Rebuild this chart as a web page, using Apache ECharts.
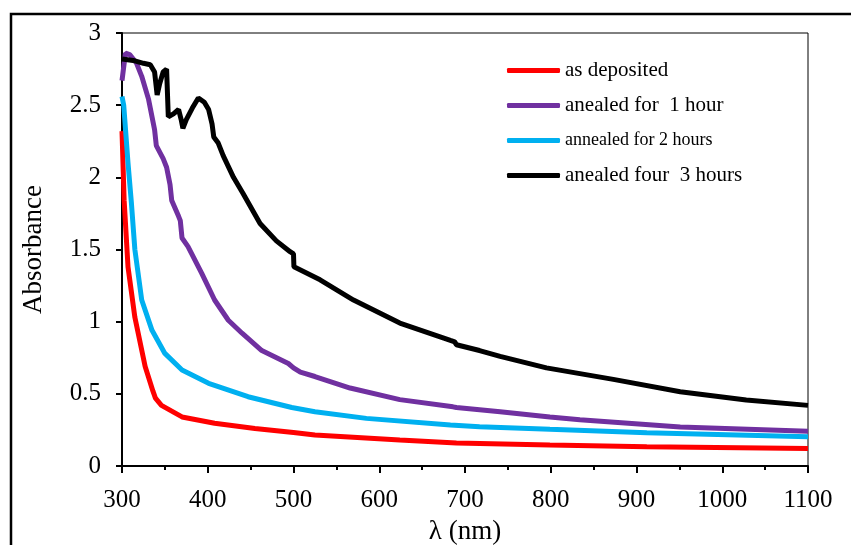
<!DOCTYPE html>
<html>
<head>
<meta charset="utf-8">
<script src="https://cdn.jsdelivr.net/npm/echarts@6/dist/echarts.min.js"></script>
<style>
html,body{margin:0;padding:0;background:#fff;}
#chart{width:851px;height:545px;}
</style>
</head>
<body>
<div id="chart"></div>
<script>
var seriesNames = ['as deposited', 'anealed for  1 hour', 'annealed for 2 hours', 'anealed four  3 hours'];

var redX = [300, 302.5, 307, 315, 327, 336, 339, 346, 370, 408, 455, 500, 525, 624, 690, 799, 912, 1100];
var redY = [2.32, 1.84, 1.38, 1.03, 0.69, 0.52, 0.47, 0.42, 0.34, 0.296, 0.26, 0.232, 0.215, 0.18, 0.16, 0.145, 0.134, 0.122];

var purpleX = [300, 304, 309, 317, 323, 331, 338, 340, 348, 352, 356, 358, 366, 368, 370, 377, 393, 408, 424, 440, 463, 494, 500, 508, 525, 566, 624, 686, 690, 741, 799, 834, 951, 1100];
var purpleY = [2.67, 2.86, 2.85, 2.79, 2.70, 2.54, 2.33, 2.22, 2.13, 2.07, 1.95, 1.84, 1.73, 1.70, 1.58, 1.52, 1.335, 1.15, 1.01, 0.92, 0.80, 0.71, 0.68, 0.65, 0.62, 0.54, 0.46, 0.41, 0.405, 0.376, 0.34, 0.32, 0.27, 0.24];

var cyanX = [300, 302, 307, 311, 315, 323, 335, 350, 370, 401, 447, 498, 500, 525, 585, 683, 717, 799, 912, 1100];
var cyanY = [2.56, 2.50, 2.10, 1.82, 1.50, 1.15, 0.94, 0.78, 0.665, 0.573, 0.48, 0.405, 0.40, 0.376, 0.33, 0.284, 0.272, 0.254, 0.231, 0.203];

var blackX = [300, 313, 325, 333, 338, 341, 344, 348, 352, 354, 360, 366, 369, 371, 375, 382, 389, 396, 401, 405, 407, 412, 418, 430, 441, 461, 480, 496, 500, 500.5, 531, 570, 624, 683, 688, 690, 717, 741, 795, 873, 951, 1028, 1100];
var blackY = [2.82, 2.81, 2.79, 2.78, 2.73, 2.57, 2.65, 2.73, 2.75, 2.42, 2.44, 2.47, 2.40, 2.34, 2.40, 2.48, 2.55, 2.52, 2.47, 2.37, 2.28, 2.24, 2.15, 2.00, 1.89, 1.68, 1.56, 1.485, 1.47, 1.38, 1.29, 1.15, 0.99, 0.87, 0.86, 0.84, 0.80, 0.76, 0.68, 0.60, 0.515, 0.457, 0.42];

var colors = ['#FF0000', '#7030A0', '#00B0F0', '#000000'];

function pairs(xs, ys) {
  return xs.map(function (x, i) { return [x, ys[i]]; });
}
var allData = [pairs(redX, redY), pairs(purpleX, purpleY), pairs(cyanX, cyanY), pairs(blackX, blackY)];

var font = '"Liberation Serif", "Times New Roman", serif';

var chart = echarts.init(document.getElementById('chart'), null, {renderer: 'canvas'});
var option = {
  animation: false,
  backgroundColor: '#fff',
  grid: {left: 122, right: 43, top: 33, bottom: 79, show: true, borderColor: '#000', borderWidth: 1, containLabel: false, outerBoundsMode: 'none'},
  legend: {
    orient: 'vertical',
    left: 502,
    top: 55,
    icon: 'roundRect',
    itemWidth: 53,
    itemHeight: 5,
    itemGap: 14,
    data: seriesNames,
    textStyle: {
      fontFamily: font, fontSize: 21, color: '#000', lineHeight: 21,
      rich: {
        s: {fontFamily: font, fontSize: 18, color: '#000', lineHeight: 21},
        n: {fontFamily: font, fontSize: 21, color: '#000', lineHeight: 21}
      }
    },
    formatter: function (name) {
      return name === seriesNames[2] ? '{s|' + name + '}' : '{n|' + name + '}';
    }
  },
  xAxis: {
    type: 'value', min: 300, max: 1100, interval: 100,
    name: 'λ (nm)', nameLocation: 'middle', nameGap: 52,
    nameTextStyle: {fontFamily: font, fontSize: 27, color: '#000'},
    axisLine: {show: true, lineStyle: {color: '#000', width: 2}},
    axisTick: {show: true, length: 7, lineStyle: {color: '#000', width: 2}},
    minorTick: {show: true, splitNumber: 2, length: 4, lineStyle: {color: '#000', width: 2}},
    splitLine: {show: false},
    axisLabel: {fontFamily: font, fontSize: 25, color: '#000', margin: 22, formatter: function (v) { return String(v); }}
  },
  yAxis: {
    type: 'value', min: 0, max: 3, interval: 0.5,
    name: 'Absorbance', nameLocation: 'middle', nameGap: 75, nameRotate: 90,
    nameTextStyle: {fontFamily: font, fontSize: 27, color: '#000'},
    axisLine: {show: true, lineStyle: {color: '#000', width: 2}},
    axisTick: {show: true, length: 6, lineStyle: {color: '#000', width: 2}},
    splitLine: {show: false},
    axisLabel: {fontFamily: font, fontSize: 25, color: '#000', margin: 21, formatter: function (v) { return String(v); }}
  },
  graphic: [{
    type: 'polyline',
    shape: {points: [[11, 545], [11, 14], [851, 14]]},
    style: {stroke: '#000', lineWidth: 2.5, fill: null}
  }],
  series: allData.map(function (d, i) {
    return {
      name: seriesNames[i],
      type: 'line',
      data: d,
      symbol: 'none',
      showSymbol: false,
      smooth: false,
      color: colors[i],
      lineStyle: {color: colors[i], width: 5},
      z: 2 + i
    };
  })
};
chart.setOption(option);
</script>
</body>
</html>
